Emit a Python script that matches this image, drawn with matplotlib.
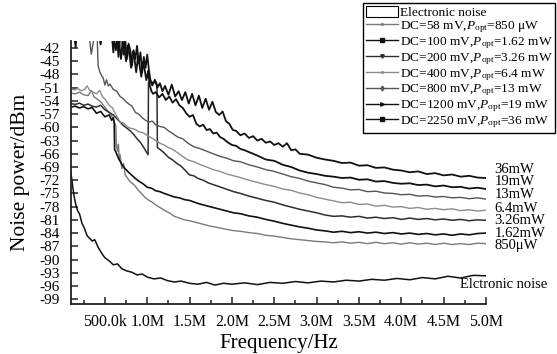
import matplotlib
matplotlib.use('Agg')
import matplotlib.pyplot as plt
from matplotlib.lines import Line2D
from matplotlib.patches import Patch
from matplotlib.ticker import FixedLocator, MultipleLocator, FuncFormatter
import numpy as np

plt.rcParams['font.family'] = ['Liberation Serif', 'DejaVu Serif']
plt.rcParams['mathtext.fontset'] = 'custom'
plt.rcParams['mathtext.rm'] = 'Liberation Serif'
plt.rcParams['mathtext.it'] = 'Liberation Serif:italic'
plt.rcParams['axes.unicode_minus'] = False

# (frequency in MHz, noise power in dBm)
electronic_noise = [
    (0.10, -70.4), (0.12, -73.5), (0.14, -76.0), (0.16, -77.8), (0.18, -79.0), (0.20, -79.6),
    (0.23, -81.8), (0.26, -83.0), (0.29, -84.6), (0.32, -85.2), (0.35, -85.8), (0.38, -85.5),
    (0.42, -87.2), (0.46, -88.5), (0.50, -89.6), (0.55, -90.3), (0.60, -91.2), (0.65, -91.0),
    (0.70, -92.1), (0.76, -92.6), (0.82, -92.9), (0.88, -93.5), (0.94, -93.3), (1.00, -94.0),
    (1.08, -94.4), (1.16, -94.2), (1.24, -94.8), (1.32, -95.1), (1.40, -94.9), (1.50, -95.4),
    (1.60, -95.6), (1.70, -95.2), (1.80, -95.8), (1.90, -95.4), (2.00, -95.6), (2.15, -95.3),
    (2.30, -95.7), (2.45, -95.2), (2.60, -95.4), (2.75, -95.0), (2.90, -95.3), (3.05, -94.9),
    (3.20, -95.1), (3.35, -94.7), (3.50, -94.9), (3.65, -94.5), (3.80, -94.7), (3.95, -94.3),
    (4.10, -94.6), (4.25, -94.1), (4.40, -94.4), (4.55, -93.8), (4.70, -94.2), (4.85, -93.6),
    (5.00, -93.7),
]

dc58_850uw = [
    (0.10, -52.2), (0.15, -52.4), (0.20, -52.0), (0.25, -52.6), (0.30, -52.8), (0.34, -51.6),
    (0.37, -53.0), (0.41, -53.6), (0.45, -54.2), (0.50, -55.4), (0.54, -56.4), (0.58, -57.4),
    (0.61, -58.6), (0.63, -59.8), (0.635, -64.0), (0.65, -65.4), (0.66, -63.8), (0.67, -67.4),
    (0.68, -66.2), (0.70, -69.4), (0.72, -68.2), (0.74, -70.8), (0.77, -71.6), (0.80, -72.4),
    (0.83, -72.8), (0.86, -73.4), (0.90, -74.4), (0.94, -75.2), (0.98, -76.0), (1.02, -76.6),
    (1.06, -77.0), (1.10, -77.6), (1.15, -78.2), (1.20, -78.8), (1.26, -79.4), (1.32, -80.2),
    (1.38, -80.6), (1.44, -81.0), (1.50, -81.2), (1.58, -81.6), (1.66, -82.0), (1.74, -82.4),
    (1.82, -82.7), (1.90, -83.0), (2.00, -83.4), (2.10, -83.6), (2.20, -83.9), (2.30, -84.1),
    (2.40, -84.5), (2.50, -84.7), (2.60, -85.0), (2.70, -85.3), (2.80, -85.5), (2.90, -85.7),
    (3.00, -85.9), (3.10, -86.0), (3.20, -86.2), (3.30, -86.0), (3.40, -86.3), (3.50, -86.1),
    (3.60, -86.4), (3.70, -86.1), (3.80, -86.4), (3.90, -86.2), (4.00, -86.5), (4.10, -86.2),
    (4.20, -86.5), (4.30, -86.3), (4.40, -86.6), (4.50, -86.3), (4.60, -86.6), (4.70, -86.4),
    (4.80, -86.6), (4.90, -86.3), (5.00, -86.4),
]

dc100_162mw = [
    (0.10, -55.4), (0.15, -55.2), (0.20, -55.6), (0.25, -55.3), (0.30, -55.8), (0.35, -55.5),
    (0.40, -56.8), (0.45, -56.4), (0.50, -57.6), (0.55, -57.2), (0.58, -58.4), (0.60, -57.8),
    (0.61, -59.0), (0.615, -65.0), (0.63, -65.6), (0.66, -67.0), (0.70, -68.4), (0.74, -69.4),
    (0.78, -70.2), (0.82, -70.9), (0.86, -71.6), (0.90, -72.2), (0.95, -72.8), (1.00, -73.6),
    (1.05, -73.8), (1.10, -74.4), (1.15, -74.6), (1.20, -75.0), (1.26, -75.4), (1.32, -75.8),
    (1.38, -76.0), (1.44, -76.4), (1.50, -76.6), (1.56, -77.0), (1.62, -77.4), (1.70, -77.8),
    (1.78, -78.2), (1.86, -78.6), (1.94, -79.0), (2.02, -79.4), (2.10, -79.6), (2.20, -80.1),
    (2.30, -80.4), (2.40, -80.9), (2.50, -81.3), (2.60, -81.8), (2.70, -82.2), (2.80, -82.6),
    (2.90, -82.9), (3.00, -83.3), (3.10, -83.5), (3.20, -83.8), (3.30, -83.6), (3.40, -83.9),
    (3.50, -83.7), (3.60, -84.0), (3.70, -83.8), (3.80, -84.1), (3.90, -83.9), (4.00, -84.2),
    (4.10, -84.0), (4.20, -84.3), (4.30, -84.1), (4.40, -84.4), (4.50, -84.2), (4.60, -84.5),
    (4.70, -84.2), (4.80, -84.4), (4.90, -84.1), (5.00, -84.0),
]

dc200_326mw = [
    (0.10, -54.6), (0.15, -54.8), (0.20, -54.5), (0.25, -55.0), (0.30, -54.7), (0.35, -55.2),
    (0.40, -55.4), (0.45, -55.0), (0.50, -56.0), (0.55, -56.6), (0.60, -57.2), (0.64, -58.0),
    (0.68, -58.8), (0.72, -59.6), (0.76, -60.2), (0.80, -60.8), (0.84, -61.6), (0.88, -62.6),
    (0.92, -63.4), (0.96, -64.6), (0.99, -65.6), (1.01, -66.2), (1.015, -49.8), (1.04, -49.4),
    (1.07, -50.0), (1.10, -49.6), (1.115, -50.2), (1.12, -64.6), (1.15, -65.0), (1.20, -65.8),
    (1.25, -66.8), (1.30, -67.4), (1.35, -68.2), (1.40, -68.8), (1.45, -69.8), (1.50, -70.8),
    (1.55, -71.0), (1.60, -71.6), (1.66, -72.0), (1.72, -72.6), (1.78, -73.0), (1.84, -73.4),
    (1.90, -73.8), (1.96, -74.2), (2.02, -74.6), (2.10, -75.0), (2.20, -75.6), (2.30, -76.1),
    (2.40, -76.6), (2.50, -77.0), (2.60, -77.6), (2.70, -78.1), (2.80, -78.6), (2.90, -79.0),
    (3.00, -79.4), (3.10, -79.9), (3.20, -80.2), (3.30, -80.1), (3.40, -80.4), (3.50, -80.2),
    (3.60, -80.6), (3.70, -80.4), (3.80, -80.7), (3.90, -80.5), (4.00, -80.9), (4.10, -80.6),
    (4.20, -80.9), (4.30, -80.7), (4.40, -81.0), (4.50, -80.8), (4.60, -81.1), (4.70, -80.9),
    (4.80, -81.2), (4.90, -81.0), (5.00, -81.1),
]

dc400_64mw = [
    (0.10, -51.3), (0.14, -51.5), (0.18, -51.2), (0.22, -51.7), (0.26, -51.4), (0.29, -50.6),
    (0.32, -51.6), (0.36, -52.0), (0.40, -52.4), (0.44, -51.6), (0.47, -53.0), (0.51, -53.8),
    (0.55, -55.0), (0.59, -55.6), (0.62, -56.8), (0.65, -57.8), (0.68, -58.8), (0.72, -59.0),
    (0.76, -59.8), (0.80, -60.2), (0.85, -60.4), (0.90, -61.0), (0.95, -61.2), (1.00, -61.8),
    (1.05, -62.4), (1.10, -63.0), (1.15, -63.6), (1.20, -64.0), (1.25, -64.6), (1.30, -65.0),
    (1.36, -65.8), (1.42, -66.6), (1.48, -67.4), (1.55, -67.8), (1.62, -68.4), (1.70, -69.0),
    (1.78, -69.6), (1.86, -70.0), (1.94, -70.6), (2.02, -71.0), (2.10, -71.4), (2.20, -72.0),
    (2.30, -72.5), (2.40, -73.0), (2.50, -73.4), (2.60, -74.0), (2.70, -74.3), (2.80, -74.9),
    (2.90, -75.3), (3.00, -75.9), (3.10, -76.3), (3.20, -76.7), (3.30, -77.1), (3.40, -77.0),
    (3.50, -77.5), (3.60, -77.4), (3.70, -77.9), (3.80, -77.7), (3.90, -78.1), (4.00, -78.0),
    (4.10, -78.4), (4.20, -78.2), (4.30, -78.6), (4.40, -78.4), (4.50, -78.7), (4.60, -78.5),
    (4.70, -78.9), (4.80, -78.7), (4.90, -79.0), (5.00, -78.8),
]

dc800_13mw = [
    (0.10, -36.0), (0.15, -35.5), (0.20, -36.5), (0.25, -37.0), (0.30, -38.0), (0.32, -40.2),
    (0.34, -43.4), (0.36, -41.0), (0.38, -38.5), (0.40, -37.5), (0.41, -39.8), (0.42, -46.0),
    (0.44, -47.4), (0.46, -48.2), (0.48, -48.8), (0.50, -50.4), (0.52, -49.2), (0.54, -50.6),
    (0.56, -50.2), (0.60, -51.4), (0.64, -51.8), (0.68, -53.0), (0.71, -53.4), (0.75, -54.2),
    (0.79, -54.8), (0.82, -55.2), (0.86, -56.6), (0.90, -57.0), (0.94, -57.8), (0.98, -58.4),
    (1.02, -58.8), (1.06, -58.6), (1.10, -59.4), (1.15, -59.8), (1.20, -60.0), (1.25, -60.8),
    (1.30, -61.4), (1.36, -62.2), (1.42, -62.6), (1.48, -63.6), (1.55, -64.4), (1.62, -64.8),
    (1.70, -65.4), (1.78, -66.0), (1.86, -66.6), (1.94, -67.0), (2.02, -67.6), (2.10, -67.8),
    (2.20, -68.5), (2.30, -69.0), (2.40, -69.6), (2.50, -70.0), (2.60, -70.6), (2.70, -71.2),
    (2.80, -71.6), (2.90, -72.2), (3.00, -72.6), (3.10, -73.0), (3.20, -73.6), (3.30, -73.8),
    (3.40, -74.2), (3.50, -74.1), (3.60, -74.6), (3.70, -74.5), (3.80, -74.9), (3.90, -75.0),
    (4.00, -75.3), (4.10, -75.2), (4.20, -75.6), (4.30, -75.5), (4.40, -75.8), (4.50, -75.7),
    (4.60, -76.0), (4.70, -75.9), (4.80, -76.2), (4.90, -76.0), (5.00, -76.3),
]

dc1200_19mw = [
    (0.10, -37.5), (0.14, -36.5), (0.18, -37.0), (0.22, -38.0), (0.26, -36.8), (0.30, -37.5),
    (0.36, -38.2), (0.42, -37.0), (0.48, -38.5), (0.54, -37.6), (0.60, -39.0), (0.63, -42.5),
    (0.65, -39.5), (0.67, -41.0), (0.69, -44.5), (0.71, -40.5), (0.73, -42.0), (0.75, -45.0),
    (0.77, -41.5), (0.79, -43.5), (0.81, -46.5), (0.83, -42.8), (0.85, -44.5), (0.87, -47.5),
    (0.89, -44.0), (0.91, -46.0), (0.93, -48.5), (0.95, -45.2), (0.97, -47.0), (0.99, -49.3),
    (1.01, -47.2), (1.03, -50.5), (1.05, -51.8), (1.07, -52.4), (1.10, -52.0), (1.14, -53.2),
    (1.18, -52.4), (1.22, -53.8), (1.26, -53.0), (1.30, -54.4), (1.34, -53.6), (1.38, -55.0),
    (1.42, -55.6), (1.46, -56.8), (1.50, -57.6), (1.54, -57.2), (1.58, -59.2), (1.62, -59.8),
    (1.66, -59.4), (1.70, -60.6), (1.74, -60.4), (1.78, -61.4), (1.82, -61.2), (1.86, -62.2),
    (1.90, -62.6), (1.95, -63.4), (2.00, -64.0), (2.05, -64.2), (2.10, -64.9), (2.15, -65.2),
    (2.20, -65.6), (2.30, -66.4), (2.40, -67.3), (2.50, -67.6), (2.60, -68.5), (2.70, -69.0),
    (2.80, -69.8), (2.90, -70.3), (3.00, -70.6), (3.10, -71.0), (3.20, -71.2), (3.30, -71.5),
    (3.40, -71.4), (3.50, -71.9), (3.60, -71.8), (3.70, -72.3), (3.80, -72.2), (3.90, -72.6),
    (4.00, -72.8), (4.10, -72.7), (4.20, -73.1), (4.30, -73.0), (4.40, -73.4), (4.50, -73.2),
    (4.60, -73.6), (4.70, -73.5), (4.80, -73.9), (4.90, -73.7), (5.00, -74.0),
]

dc2250_36mw = [
    (0.10, -37.0), (0.13, -38.0), (0.155, -41.8), (0.17, -38.0), (0.19, -36.5), (0.24, -37.0),
    (0.30, -36.0), (0.36, -37.5), (0.42, -38.0), (0.45, -41.2), (0.47, -38.0), (0.50, -37.0),
    (0.55, -36.5), (0.58, -38.5), (0.60, -43.0), (0.62, -39.0), (0.64, -37.5), (0.66, -44.0),
    (0.68, -39.5), (0.70, -38.5), (0.72, -43.5), (0.74, -40.0), (0.76, -44.5), (0.78, -41.0),
    (0.80, -42.5), (0.82, -46.0), (0.84, -42.5), (0.86, -44.5), (0.88, -41.5), (0.90, -45.5),
    (0.92, -43.0), (0.94, -47.5), (0.96, -44.0), (0.98, -46.5), (1.00, -43.5), (1.02, -47.0),
    (1.04, -49.5), (1.06, -50.5), (1.09, -49.2), (1.12, -51.0), (1.15, -50.0), (1.18, -51.8),
    (1.21, -50.6), (1.25, -52.6), (1.29, -50.3), (1.33, -53.0), (1.37, -51.8), (1.41, -53.8),
    (1.45, -52.0), (1.49, -54.6), (1.53, -52.4), (1.57, -55.0), (1.61, -52.8), (1.65, -55.6),
    (1.69, -53.5), (1.73, -56.0), (1.77, -54.2), (1.81, -56.5), (1.85, -57.2), (1.89, -56.4),
    (1.93, -58.6), (1.97, -59.2), (2.01, -60.6), (2.05, -60.8), (2.10, -61.8), (2.15, -61.4),
    (2.20, -62.4), (2.25, -62.0), (2.30, -63.0), (2.35, -62.6), (2.40, -63.5), (2.45, -63.2),
    (2.50, -64.0), (2.55, -63.6), (2.60, -64.4), (2.65, -63.6), (2.70, -65.2), (2.75, -65.0),
    (2.80, -66.0), (2.90, -66.2), (3.00, -66.9), (3.10, -67.3), (3.20, -67.6), (3.30, -68.1),
    (3.40, -68.0), (3.50, -68.7), (3.60, -68.6), (3.70, -69.2), (3.80, -69.1), (3.90, -69.6),
    (4.00, -69.8), (4.10, -70.2), (4.20, -70.0), (4.30, -70.6), (4.40, -70.4), (4.50, -70.9),
    (4.60, -70.7), (4.70, -71.2), (4.80, -71.0), (4.90, -71.4), (5.00, -71.5),
]

legend_labels = [
    'Electronic noise',
    r'DC=58 mV,$P_{\rm opt}$=850 μW',
    r'DC=100 mV,$P_{\rm opt}$=1.62 mW',
    r'DC=200 mV,$P_{\rm opt}$=3.26 mW',
    r'DC=400 mV,$P_{\rm opt}$=6.4 mW',
    r'DC=800 mV,$P_{\rm opt}$=13 mW',
    r'DC=1200 mV,$P_{\rm opt}$=19 mW',
    r'DC=2250 mV,$P_{\rm opt}$=36 mW',
]
end_labels = ['Elctronic noise', '850μW', '1.62mW', '3.26mW', '6.4mW', '13mW', '19mW', '36mW']
end_label_y = [-95.6, -86.8, -84.0, -81.2, -78.4, -75.2, -72.4, -69.6]

series = [electronic_noise, dc58_850uw, dc100_162mw, dc200_326mw,
          dc400_64mw, dc800_13mw, dc1200_19mw, dc2250_36mw]
colors = ['#111111', '#7a7a7a', '#111111', '#2e2e2e', '#8c8c8c', '#555555', '#111111', '#111111']
widths = [1.1, 1.0, 1.2, 1.1, 1.0, 1.0, 1.3, 1.3]
markers = [None, '.', 's', 'v', '.', 'd', '>', 's']

fig = plt.figure(figsize=(5.57, 3.54), dpi=100)
ax = fig.add_axes([71 / 557, 50 / 354, 415 / 557, 263 / 354])

for data, c, w in zip(series, colors, widths):
    arr = np.array(data)
    ax.plot(arr[:, 0], arr[:, 1], color=c, lw=w)

ax.set_xlim(0.1, 5.0)
ax.set_ylim(-100.1, -40.4)

ax.xaxis.set_major_locator(FixedLocator(np.arange(0.5, 5.01, 0.5)))
ax.xaxis.set_minor_locator(MultipleLocator(0.25))
ax.xaxis.set_major_formatter(FuncFormatter(lambda v, p: '500.0k' if abs(v - 0.5) < 1e-6 else f'{v:.1f}M'))
ax.yaxis.set_major_locator(FixedLocator(np.arange(-99, -41, 3)))
ax.yaxis.set_major_formatter(FuncFormatter(lambda v, p: f'{v:.0f}'))

for s in ['top', 'right']:
    ax.spines[s].set_visible(False)
for s in ['left', 'bottom']:
    ax.spines[s].set_linewidth(1.3)
    ax.spines[s].set_color('#222222')

ax.tick_params(axis='both', which='major', direction='in', length=5, width=1.1, color='#222222')
ax.tick_params(axis='x', which='minor', direction='in', length=3, width=1.1, color='#222222')
ax.tick_params(axis='y', labelsize=11, pad=8)
ax.tick_params(axis='x', labelsize=11.5, pad=7)

ax.set_xlabel('Frequency/Hz', fontsize=15, labelpad=3)
ax.set_ylabel('Noise power/dBm', fontsize=15.5, labelpad=7)

# labels at the right end of the curves
for txt, yv in zip(end_labels, end_label_y):
    xpos = 0.937 if txt.startswith('Elc') else 1.02
    ax.text(xpos, yv, txt, transform=ax.get_yaxis_transform(), ha='left', va='center',
            fontsize=10.5, clip_on=False)

handles = [Patch(facecolor='white', edgecolor='black', lw=0.8)]
for c, m in zip(colors[1:], markers[1:]):
    handles.append(Line2D([], [], color=c, lw=1.0, marker=m, markersize=2.5))

leg = fig.legend(handles, legend_labels, loc='upper right',
                 bbox_to_anchor=(555 / 557, 1 - 3 / 354), fontsize=9.6,
                 frameon=True, fancybox=False, framealpha=1, edgecolor='black',
                 borderpad=0.2, labelspacing=0.0, handlelength=2.4,
                 handleheight=0.9, handletextpad=0.15, borderaxespad=0)
leg.get_frame().set_linewidth(1.0)

fig.savefig('out.png', dpi=100)
